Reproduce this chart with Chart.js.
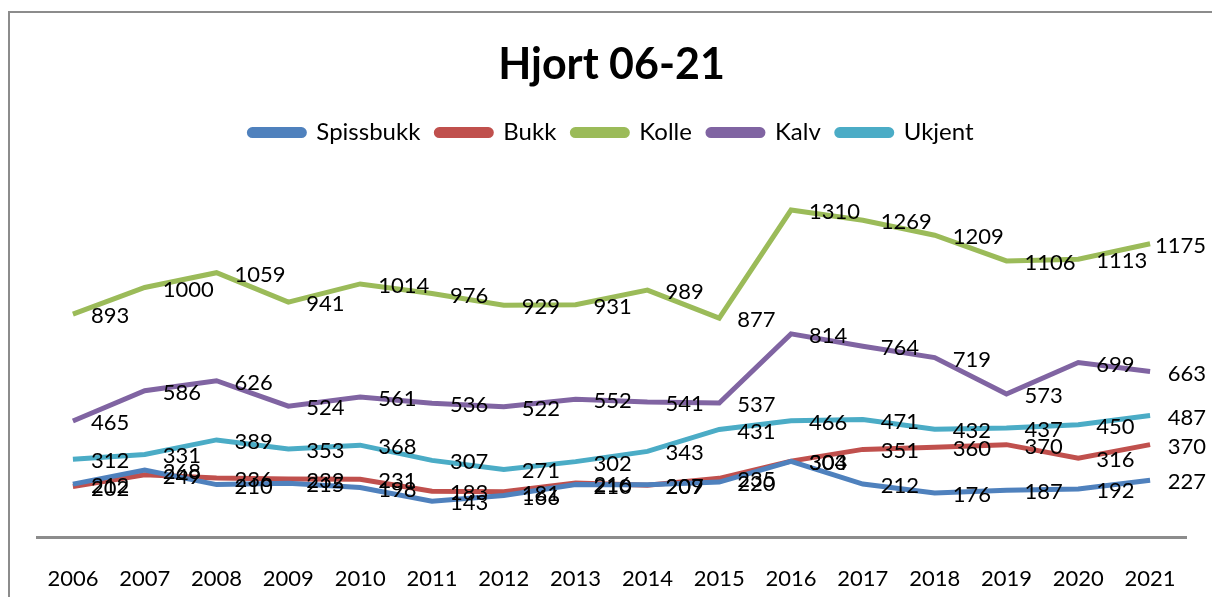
<!DOCTYPE html>
<html lang="no">
<head>
  <meta charset="UTF-8">
  <title>Hjort 06-21</title>
  <script src="https://cdn.jsdelivr.net/npm/chart.js"></script>
  <style>
    html, body { margin: 0; padding: 0; background: #fff; overflow: hidden; }
    #frame {
      position: absolute; left: 8px; top: 11px; width: 1210px; height: 600px;
      border-left: 2px solid #8c8c8c; border-top: 2px solid #8c8c8c;
    }
    #wrap { position: absolute; left: 10px; top: 13px; width: 1202px; height: 584px; }
  </style>
</head>
<body>
<div id="frame"></div>
<div id="wrap">
  <canvas id="lineChart"></canvas>
</div>

<script>
  const years = ['2006','2007','2008','2009','2010','2011','2012','2013','2014','2015','2016','2017','2018','2019','2020','2021'];
  const spissbukk = [212, 268, 210, 215, 198, 143, 166, 210, 209, 220, 303, 212, 176, 187, 192, 227];
  const bukk      = [202, 249, 236, 232, 231, 183, 181, 216, 207, 235, 304, 351, 360, 370, 316, 370];
  const kolle     = [893, 1000, 1059, 941, 1014, 976, 929, 931, 989, 877, 1310, 1269, 1209, 1106, 1113, 1175];
  const kalv      = [465, 586, 626, 524, 561, 536, 522, 552, 541, 537, 814, 764, 719, 573, 699, 663];
  const ukjent    = [312, 331, 389, 353, 368, 307, 271, 302, 343, 431, 466, 471, 432, 437, 450, 487];

  const font = 'Lato, "Open Sans", sans-serif';

  // labels to the right of each point, like the excel "right" position
  const pointLabels = {
    id: 'pointLabels',
    afterDatasetsDraw(chart) {
      const ctx = chart.ctx;
      ctx.save();
      ctx.font = '22px ' + font;
      ctx.fillStyle = '#000';
      ctx.textAlign = 'left';
      ctx.textBaseline = 'middle';
      chart.data.datasets.forEach((ds, i) => {
        chart.getDatasetMeta(i).data.forEach((pt, j) => {
          const txt = String(ds.data[j]);
          const w = ctx.measureText(txt).width;
          // keep the last labels inside the frame
          const x = Math.min(pt.x + 18, chart.width - 6 - w);
          ctx.fillText(txt, x, pt.y + 2);
        });
      });
      ctx.restore();
    }
  };

  // fixed height for the legend block so the plot starts where it should
  const legendHeight = {
    id: 'legendHeight',
    beforeInit(chart) {
      const fit = chart.legend.fit;
      chart.legend.fit = function () {
        fit.bind(chart.legend)();
        this.height = 83;
      };
    }
  };

  function line(label, data, color) {
    return {
      label: label,
      data: data,
      borderColor: color,
      backgroundColor: color,
      borderWidth: 5,
      pointRadius: 0,
      tension: 0,
      fill: false
    };
  }

  const config = {
    type: 'line',
    data: {
      labels: years,
      datasets: [
        line('Spissbukk', spissbukk, '#4f81bd'),
        line('Bukk', bukk, '#c0504d'),
        line('Kolle', kolle, '#9bbb59'),
        line('Kalv', kalv, '#8064a2'),
        line('Ukjent', ukjent, '#4bacc6')
      ]
    },
    options: {
      responsive: true,
      maintainAspectRatio: false,
      animation: false,
      layout: { padding: { left: 27, right: 26, top: 0, bottom: 0 } },
      plugins: {
        title: {
          display: true,
          text: 'Hjort 06-21',
          color: '#000',
          font: { family: font, size: 43, weight: 'bold' },
          padding: { top: 26, bottom: 14 }
        },
        legend: {
          position: 'top',
          labels: {
            color: '#000',
            font: { family: font, size: 24 },
            boxWidth: 55,
            boxHeight: 6,
            padding: 16,
            useBorderRadius: true,
            borderRadius: 3
          }
        },
        tooltip: { enabled: false }
      },
      scales: {
        x: {
          offset: true,
          grid: { display: false },
          border: { display: true, color: '#8c8c8c', width: 3 },
          ticks: {
            color: '#000',
            font: { family: font, size: 22 },
            padding: 21,
            maxRotation: 0,
            autoSkip: false
          },
          afterFit(scale) { scale.height = 60; }
        },
        y: {
          display: false,
          min: 0,
          max: 1400
        }
      }
    },
    plugins: [pointLabels, legendHeight]
  };

  new Chart(document.getElementById('lineChart'), config);
</script>
</body>
</html>
